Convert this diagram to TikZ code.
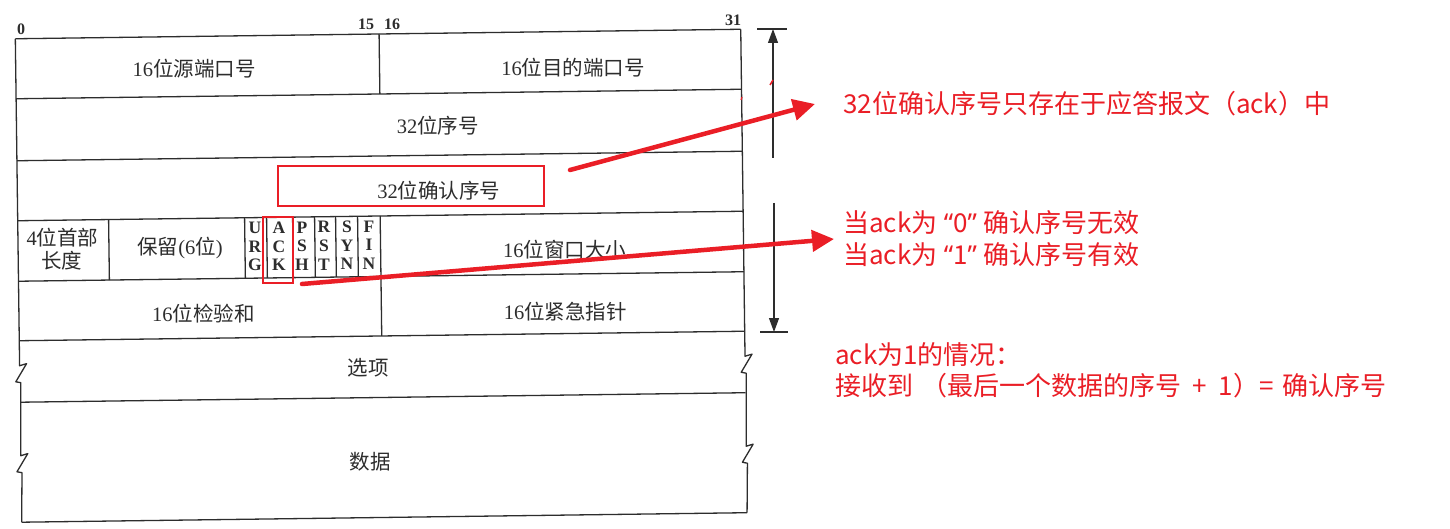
\documentclass[tikz,border=0pt]{standalone}
\usepackage{fontspec}
\setmainfont{Liberation Serif}
\newfontfamily\cjk{Noto Sans CJK SC}
\newfontfamily\latsans{Noto Sans}
\usetikzlibrary{arrows.meta}
\definecolor{ink}{RGB}{45,45,45}
\definecolor{redink}{RGB}{234,30,38}
\newcommand\zh[1]{{\cjk #1}}
\newcommand\myopenq{{\latsans “}}
\newcommand\myclosq{{\latsans ”}}
\begin{document}
\begin{tikzpicture}[x=1pt,y=-1pt,
 frame/.style={draw=ink,line width=1.3pt,line join=round},
 fieldtext/.style={text=ink,inner sep=0pt,font=\fontsize{20.5}{22}\selectfont},
 flagtext/.style={text=ink,inner sep=0pt,align=center,font=\bfseries\fontsize{17.5}{18.7}\selectfont},
 bitnum/.style={text=ink,inner sep=0pt,font=\bfseries\fontsize{16}{16}\selectfont},
 note/.style={text=redink,inner sep=0pt,anchor=west,font=\cjk\fontsize{26}{30}\selectfont},
 hilite/.style={draw=redink,line width=1.6pt,inner sep=0pt},
 callout/.style={draw=redink,line width=4.5pt,line cap=round,-{Triangle[length=22pt,width=21pt]}},
 dimline/.style={draw=ink,line width=1.1pt},
 dimtip/.style={-{Triangle[length=14pt,width=10pt]}}
]
\useasboundingbox (0,0) rectangle (1450,529);
\fill[white] (0,0) rectangle (1450,529);

% ---- scanned header diagram (slightly rotated as in the scan) ----
\begin{scope}[rotate around={0.75:(380,280)}]
 \foreach \y in {34,94,156,216,276.5,336,397.5,517.5}
   \draw[frame] (18.5,\y) -- (744,\y);
 \draw[frame] (18.5,34) -- (18.5,361) -- (25.5,359) -- (14.5,377) -- (19.5,378) -- (18.5,451) -- (25.5,449) -- (14.5,467) -- (19.5,468) -- (18.5,517.5);
 \draw[frame] (744,34) -- (744,361) -- (751,359) -- (740,377) -- (745,378) -- (744,451) -- (751,449) -- (740,467) -- (745,468) -- (744,517.5);
 \draw[frame] (382.3,34) -- (382.3,94);
 \foreach \x in {109.4,245.4,267.4,293.4,315.4,336.4,358.4}
   \draw[frame] (\x,216) -- (\x,276.5);
 \draw[frame] (381,216) -- (381,336);

 \node[fieldtext] (src)  at (197,66)  {16\zh{位源端口号}};
 \node[fieldtext] (dst)  at (576,70)  {16\zh{位目的端口号}};
 \node[fieldtext] (seq)  at (440,126) {32\zh{位序号}};
 \node[fieldtext] (ackn) at (440,191) {32\zh{位确认序号}};
 \node[fieldtext] (hlena) at (63,233) {4\zh{位首部}};
 \node[fieldtext] (hlenb) at (62,256) {\zh{长度}};
 \node[fieldtext] (rsv)  at (180.4,245.4) {\zh{保留}(6\zh{位})};
 \node[flagtext] (furg) at (255.4,245) {U\\R\\G};
 \node[flagtext] (fack) at (279.4,245) {A\\C\\K};
 \node[flagtext] (fpsh) at (302.4,245) {P\\S\\H};
 \node[flagtext] (frst) at (324.4,245) {R\\S\\T};
 \node[flagtext] (fsyn) at (347.4,245) {S\\Y\\N};
 \node[flagtext] (ffin) at (369.4,245) {F\\I\\N};
 \node[fieldtext] (win)  at (565,252) {16\zh{位窗口大小}};
 \node[fieldtext] (csum) at (203,311) {16\zh{位检验和}};
 \node[fieldtext] (urgp) at (565,314) {16\zh{位紧急指针}};
 \node[fieldtext] (opt)  at (367,368) {\zh{选项}};
 \node[fieldtext] (data) at (368,462) {\zh{数据}};
\end{scope}

% ---- bit numbers ----
\node[bitnum] (b0)  at (21,29)   {0};
\node[bitnum] (b15) at (366,24)  {15};
\node[bitnum] (b16) at (392,24)  {16};
\node[bitnum] (b31) at (733,20.5) {31};

% ---- dimension arrows ----
\coordinate (dta) at (757,29);
\coordinate (dtb) at (787,29);
\coordinate (dtl) at (773,158);
\coordinate (dtt) at (773,29);
\draw[dimline] (dta) -- (dtb);
\draw[dimline,dimtip] (dtl) -- (dtt);
\coordinate (dba) at (760,332);
\coordinate (dbb) at (788,332);
\coordinate (dbl) at (774,203);
\coordinate (dbt) at (774,332);
\draw[dimline,dimtip] (dbl) -- (dbt);
\draw[dimline] (dba) -- (dbb);

% small red specks of the scan
\draw[redink,line width=1.5pt] (770,85) -- (773,80);
\draw[redink,line width=1.2pt] (741,100) -- (742,97);

% ---- red highlights ----
\node[hilite,minimum width=266pt,minimum height=40pt] (ackbox) at (411,186) {};
\node[hilite,minimum width=30pt,minimum height=66pt] (flagbox) at (278,250) {};

% ---- notes ----
\node[note] (n1)  at (843,103.5) {32位确认序号只存在于应答报文（ack）中};
\node[note] (n2a) at (843,222.5) {当ack为\hspace{0.25em}\myopenq 0\myclosq\hspace{0.25em}确认序号无效};
\node[note] (n2b) at (843,255)   {当ack为\hspace{0.25em}\myopenq 1\myclosq\hspace{0.25em}确认序号有效};
\node[note] (n3a) at (835,355)   {ack为1的情况：};
\node[note] (n3b) at (835,386)   {接收到\hspace{0.3em}（最后一个数据的序号\hspace{0.45em}+\hspace{0.45em}1）=\hspace{0.35em}确认序号};

% ---- callout arrows ----
\coordinate (c1s) at (570,170);
\coordinate (c1e) at (815,104);
\draw[callout] (c1s) -- (c1e);
\coordinate (c2s) at (302,284);
\coordinate (c2e) at (834,239);
\draw[callout] (c2s) -- (c2e);
\end{tikzpicture}
\end{document}
